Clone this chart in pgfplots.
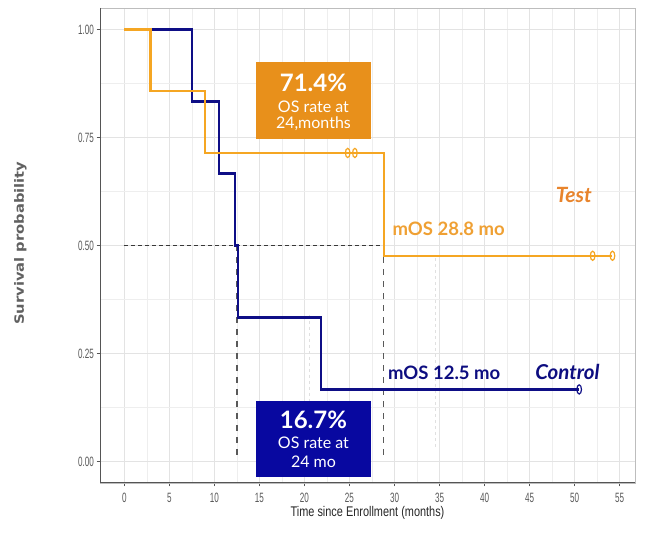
\documentclass[border=0pt]{standalone}
\usepackage{fontspec}
\setmainfont{Liberation Sans}
\newfontfamily\ticksfont[FakeStretch=0.6]{Liberation Sans}
\newfontfamily\xlabfont[FakeStretch=0.78]{Liberation Sans}
\newfontfamily\ylabfont[FakeStretch=1.15]{DejaVu Sans}
\newfontfamily\latofont{Lato}
\usepackage{pgfplots}
\pgfplotsset{compat=1.18}
\definecolor{testline}{HTML}{F5A623}
\definecolor{ctrlline}{HTML}{0E0E86}
\definecolor{orangebox}{HTML}{E8901B}
\definecolor{navybox}{HTML}{0808A0}
\definecolor{testtext}{HTML}{E8842C}
\definecolor{mostest}{HTML}{EFA033}
\definecolor{ctrltext}{HTML}{0D0D80}
\definecolor{gridmaj}{HTML}{E3E3E3}
\definecolor{gridmin}{HTML}{EEEEEE}
\definecolor{bordergrey}{HTML}{BDBDBD}
\definecolor{axisdark}{HTML}{555555}
\definecolor{ticktext}{HTML}{5A5A5A}
\begin{document}
\begin{tikzpicture}[x=1pt,y=1pt]
\useasboundingbox (0,0) rectangle (650,535);
\begin{axis}[
  at={(100pt,52pt)}, anchor=south west, scale only axis,
  width=535pt, height=475pt,
  xmin=-2.7, xmax=56.7, ymin=-0.05, ymax=1.05,
  xtick={0,5,...,55}, ytick={0,0.25,0.5,0.75,1},
  minor xtick={2.5,7.5,...,52.5},
  minor ytick={0.125,0.375,0.625,0.875},
  grid=both,
  major grid style={color=gridmaj, line width=0.8pt},
  minor grid style={color=gridmin, line width=0.6pt},
  axis line style={color=bordergrey, line width=0.7pt},
  xtick pos=bottom, ytick pos=left,
  tick align=outside, major tick length=3.5pt, minor tick length=0pt,
  tick style={color=axisdark, line width=0.8pt},
  /pgf/number format/assume math mode=true,
  xticklabel style={font=\ticksfont\fontsize{13.5}{14}\selectfont, text=ticktext, yshift=-3pt},
  yticklabel style={font=\ticksfont\fontsize{13.5}{14}\selectfont, text=ticktext, xshift=1pt,
    /pgf/number format/.cd, fixed, fixed zerofill, precision=2},
  xlabel={Time since Enrollment (months)},
  xlabel style={font=\xlabfont\fontsize{14}{15}\selectfont, text=black!85, yshift=3pt},
  ylabel={Survival probability},
  every axis y label/.style={at={(axis description cs:-0.149,0.505)}, rotate=90, anchor=center,
    font=\ylabfont\bfseries\fontsize{12.8}{13}\selectfont, text=black!62},
]
% faint dashed artefacts
\addplot[color=black!12, dashed, line width=0.6pt] coordinates {(20.5,0.34) (20.5,0.0)};
\addplot[color=black!12, dashed, line width=0.6pt] coordinates {(34.5,0.47) (34.5,0.03)};
% median reference lines
\addplot[color=black!78, line width=1.5pt, dash pattern=on 4pt off 3pt] coordinates {(0,0.5) (28.8,0.5)};
\addplot[color=black!65, line width=1.3pt, dash pattern=on 6pt off 6pt] coordinates {(12.5,0.5) (12.5,0)};
\addplot[color=black!65, line width=1.3pt, dash pattern=on 6pt off 6pt] coordinates {(28.8,0.5) (28.8,0)};
% Control
\addplot[const plot, color=ctrlline, line width=2.2pt] coordinates {
  (0,1) (7.5,0.8333) (10.5,0.6667) (12.3,0.5) (12.6,0.3333) (21.8,0.1667) (50.5,0.1667)};
\addplot[only marks, mark=o, color=ctrlline, mark size=4.6pt, mark options={xscale=0.5, line width=1.2pt}]
  coordinates {(50.5,0.1667)};
% Test
\addplot[const plot, color=testline, line width=2.2pt] coordinates {
  (0,1) (2.9,0.8571) (9.0,0.7143) (28.8,0.4762) (54.2,0.4762)};
\addplot[only marks, mark=o, color=testline, mark size=4.6pt, mark options={xscale=0.5, line width=1.2pt}]
  coordinates {(24.8,0.7143) (25.6,0.7143) (52.0,0.4762) (54.2,0.4762)};
% darker left and bottom axis lines
\draw[color=axisdark, line width=1.2pt] (rel axis cs:0,1) -- (rel axis cs:0,0) -- (rel axis cs:1,0);
% annotation boxes
\fill[orangebox] (axis cs:14.6,0.746) rectangle (axis cs:27.4,0.924);
\node[text=white, font=\latofont\bfseries\fontsize{24}{26}\selectfont] at (axis cs:21.0,0.876) {71.4\%};
\node[text=white, font=\latofont\fontsize{16}{17}\selectfont] at (axis cs:21.0,0.822) {OS rate at};
\node[text=white, font=\latofont\fontsize{16}{17}\selectfont] at (axis cs:21.0,0.781) {24,months};
\fill[navybox] (axis cs:14.6,-0.035) rectangle (axis cs:27.4,0.141);
\node[text=white, font=\latofont\bfseries\fontsize{24}{26}\selectfont] at (axis cs:21.0,0.096) {16.7\%};
\node[text=white, font=\latofont\fontsize{16}{17}\selectfont] at (axis cs:21.0,0.044) {OS rate at};
\node[text=white, font=\latofont\fontsize{16}{17}\selectfont] at (axis cs:21.0,0.000) {24 mo};
% labels
\node[text=testtext, font=\latofont\bfseries\itshape\fontsize{21}{22}\selectfont] at (axis cs:49.9,0.618) {Test};
\node[text=mostest, font=\latofont\bfseries\fontsize{18.5}{20}\selectfont, anchor=west] at (axis cs:29.4,0.538) {mOS 28.8 mo};
\node[text=ctrltext, font=\latofont\bfseries\fontsize{18.5}{20}\selectfont, anchor=west] at (axis cs:28.9,0.205) {mOS 12.5 mo};
\node[text=ctrltext, font=\latofont\bfseries\itshape\fontsize{20.5}{22}\selectfont] at (axis cs:49.2,0.207) {Control};
\end{axis}
\end{tikzpicture}
\end{document}
